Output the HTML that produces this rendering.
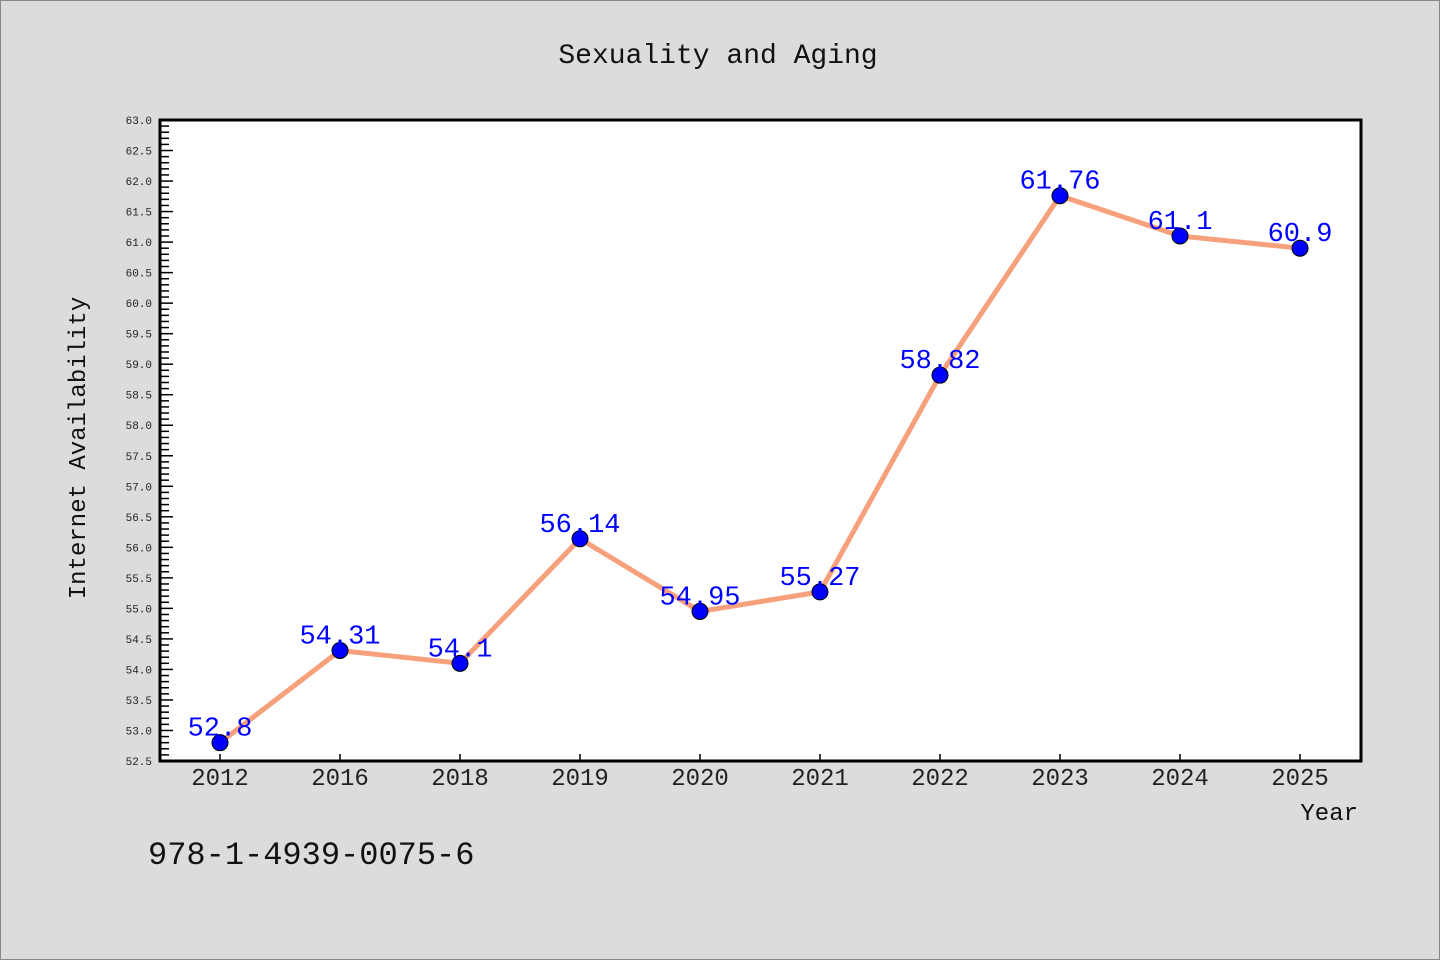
<!DOCTYPE html>
<html><head><meta charset="utf-8"><style>
body{margin:0;background:#dcdcdc;}
svg{display:block;font-family:"Liberation Mono","DejaVu Sans Mono",monospace;}
</style></head><body>
<svg id="chart" width="1440" height="960">
<rect x="0.5" y="0.5" width="1439" height="959" fill="#dcdcdc" stroke="#888"/>
<text x="718" y="63" text-anchor="middle" font-size="28" fill="#111">Sexuality and Aging</text>
<rect x="160" y="120" width="1201" height="641" fill="#fff"/>
<g id="yaxis"></g>
<g id="xaxis"></g>
<g id="series"></g>
<rect x="160" y="120" width="1201" height="641" fill="none" stroke="#000" stroke-width="3"/>
<text transform="translate(85,448) rotate(-90)" text-anchor="middle" font-size="24" fill="#111">Internet Availability</text>
<text x="1358" y="820" text-anchor="end" font-size="24" fill="#111">Year</text>
<text x="148" y="864" font-size="32" fill="#111">978-1-4939-0075-6</text>
</svg>
<script>
const categories=["2012","2016","2018","2019","2020","2021","2022","2023","2024","2025"];
const values=[52.8,54.31,54.1,56.14,54.95,55.27,58.82,61.76,61.1,60.9];
const valueLabels=["52.8","54.31","54.1","56.14","54.95","55.27","58.82","61.76","61.1","60.9"];
const yMin=52.5,yMax=63.0;
const NS="http://www.w3.org/2000/svg";
const L=160,R=1361,T=120,B=761;
const xs=i=>220+i*(1300-220)/(categories.length-1);
const ys=v=>B-(v-yMin)/(yMax-yMin)*(B-T);
function mk(tag,attrs,parent){const e=document.createElementNS(NS,tag);for(const k in attrs)e.setAttribute(k,attrs[k]);parent.appendChild(e);return e;}
const ya=document.getElementById('yaxis'),xa=document.getElementById('xaxis'),sg=document.getElementById('series');
for(let k=0;k<=Math.round((yMax-yMin)*10);k++){
 const v=yMin+k*0.1,y=ys(v),major=k%5===0;
 const t=mk('line',{x1:L,x2:L+(major?13:9),y1:y,y2:y,stroke:'#000','stroke-width':1.5},ya);
 
 
 if(major){const tx=mk('text',{x:L-8,y:y+4,'text-anchor':'end','font-size':11,fill:'#222'},ya);tx.textContent=v.toFixed(1);
 
 }
}
categories.forEach((c,i)=>{
 const x=xs(i);
 const t=mk('line',{x1:x,x2:x,y1:B,y2:B-7,stroke:'#000','stroke-width':1.5},xa);
 
 
 const tx=mk('text',{x:x,y:785,'text-anchor':'middle','font-size':24,fill:'#222'},xa);tx.textContent=c;
 
 
});
const line=mk('polyline',{points:values.map((v,i)=>xs(i)+','+ys(v)).join(' '),fill:'none',stroke:'#f7a07c','stroke-width':5,'stroke-linejoin':'round'},sg);


values.forEach((v,i)=>{
 const c=mk('circle',{cx:xs(i),cy:ys(v),r:8,fill:'#0000ff',stroke:'#000','stroke-width':1},sg);
 
 
 const t=mk('text',{x:xs(i),y:ys(v)-7,'text-anchor':'middle','font-size':27,fill:'#0000ff'},sg);t.textContent=valueLabels[i];
 
 
});
</script>
</body></html>
